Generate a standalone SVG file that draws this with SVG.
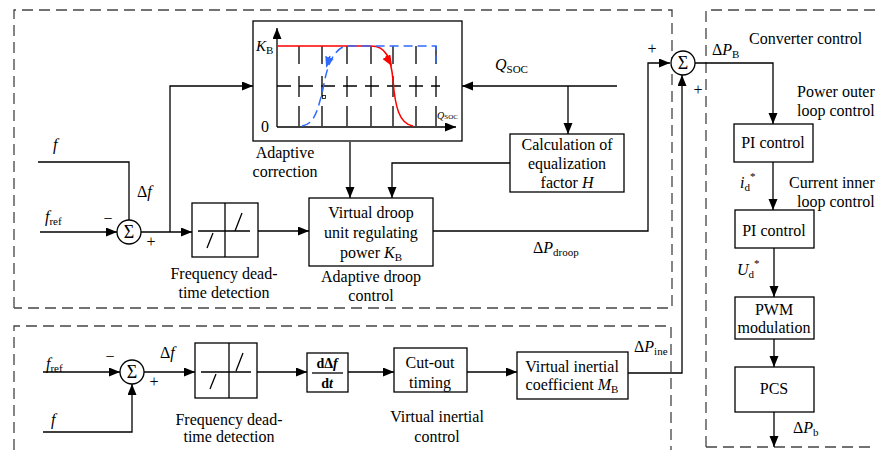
<svg xmlns="http://www.w3.org/2000/svg" width="876" height="450" viewBox="0 0 876 450">
<defs>
<marker id="ar" markerUnits="userSpaceOnUse" markerWidth="12" markerHeight="10" refX="11" refY="4.5" orient="auto"><path d="M0,0 L11,4.5 L0,9 z" fill="#000"/></marker>
<marker id="arr" markerUnits="userSpaceOnUse" markerWidth="12" markerHeight="10" refX="5" refY="4.5" orient="auto"><path d="M0,0 L11,4.5 L0,9 z" fill="#f00"/></marker>
<marker id="arb" markerUnits="userSpaceOnUse" markerWidth="12" markerHeight="10" refX="5" refY="4.5" orient="auto"><path d="M0,0 L11,4.5 L0,9 z" fill="#2f6bff"/></marker>
<style>
text{font-family:"Liberation Serif","Times New Roman",serif;font-size:16px;fill:#000}
.m{text-anchor:middle}
.i{font-style:italic}
.s{font-size:11px}
.frac{font-size:14px;font-weight:bold}
.box{fill:#fff;stroke:#000;stroke-width:1.3}
.ln{fill:none;stroke:#000;stroke-width:1.3}
.dash{fill:none;stroke:#444;stroke-width:1.3;stroke-dasharray:11 6}
.grid{fill:none;stroke:#000;stroke-width:1.3}
</style>
</defs>

<!-- dashed regions -->
<g id="regions">
<path class="dash" d="M14,308 V10 H672 V308 H14"/>
<path class="dash" d="M14,450 V326 H671 V450"/>
<path class="dash" d="M706,447 V10 H876 M706,447 H876"/>
</g>

<!-- connectors -->
<g id="connectors">
<path class="ln" d="M38,162 H129 V220"/>
<path class="ln" d="M40,232 H117" marker-end="url(#ar)"/>
<path class="ln" d="M141,232 H192" marker-end="url(#ar)"/>
<path class="ln" d="M170,232 V86 H253" marker-end="url(#ar)"/>
<path class="ln" d="M617,86 H462" marker-end="url(#ar)"/>
<path class="ln" d="M568,86 V134" marker-end="url(#ar)"/>
<path class="ln" d="M350,142 V198" marker-end="url(#ar)"/>
<path class="ln" d="M510,163 H392 V198" marker-end="url(#ar)"/>
<path class="ln" d="M258,231 H309" marker-end="url(#ar)"/>
<path class="ln" d="M433,231 H648 V63 H670" marker-end="url(#ar)"/>
<path class="ln" d="M628,373 H682 V75" marker-end="url(#ar)"/>
<path class="ln" d="M695,63 H773 V124" marker-end="url(#ar)"/>
<path class="ln" d="M773,162 V210" marker-end="url(#ar)"/>
<path class="ln" d="M774,248 V297" marker-end="url(#ar)"/>
<path class="ln" d="M774,339 V367" marker-end="url(#ar)"/>
<path class="ln" d="M774,412 V447" marker-end="url(#ar)"/>
<path class="ln" d="M43,372 H120" marker-end="url(#ar)"/>
<path class="ln" d="M43,432 H132 V384" marker-end="url(#ar)"/>
<path class="ln" d="M144,372 H195" marker-end="url(#ar)"/>
<path class="ln" d="M257,372 H307" marker-end="url(#ar)"/>
<path class="ln" d="M348,372 H394" marker-end="url(#ar)"/>
<path class="ln" d="M467,372 H517" marker-end="url(#ar)"/>
</g>

<!-- adaptive correction chart -->
<g id="adaptive-correction">
<rect class="box" x="253" y="21" width="209" height="120"/>
<path class="ln" d="M277,127 V28" marker-end="url(#ar)"/>
<path class="ln" d="M277,127 H456" marker-end="url(#ar)"/>
<path class="grid" stroke-dasharray="18 12 21 9 20 100" d="M299,46 V127 M322,46 V127 M347,46 V127 M371,46 V127 M393,46 V127 M416,46 V127 M436,46 V127"/>
<path class="grid" stroke-dasharray="14 8" d="M277,86 H440"/>
<path fill="none" stroke="#f00" stroke-width="1.5" d="M277,46 H371 C386,46 391,58 393,80 C395,106 399,124 413,126"/>
<path fill="none" stroke="#f00" stroke-width="1.5" d="M386,56 L389,61" marker-end="url(#arr)"/>
<path fill="none" stroke="#2f6bff" stroke-width="1.5" stroke-dasharray="9 5" d="M302,126 C316,124 318,106 322,94 C326,72 330,52 345,46 H436 V63"/>
<path fill="none" stroke="#2f6bff" stroke-width="1.5" d="M330,56 L328,62" marker-end="url(#arb)"/>
<rect x="322.5" y="95.5" width="3" height="3" fill="#fff" stroke="#000" stroke-width="0.8"/>
<text x="256" y="51" class="i" style="font-size:15px">K<tspan class="s" font-style="normal" dy="3">B</tspan></text>
<text x="261" y="132">0</text>
<text x="437" y="119" class="i" style="font-size:10px">Q<tspan style="font-size:7px;font-style:normal">SOC</tspan></text>
<text x="285" y="158" class="m">Adaptive</text>
<text x="285" y="177" class="m">correction</text>
</g>

<!-- top sum -->
<g id="sum1">
<circle cx="129" cy="232" r="12" fill="#fff" stroke="#000" stroke-width="1.3"/>
<text x="129" y="238" class="m" style="font-size:18px">Σ</text>
<text x="108" y="224" class="m">−</text>
<text x="151" y="247" class="m">+</text>
<text x="53" y="150" class="i">f</text>
<text x="45" y="222" class="i">f<tspan class="s" font-style="normal" dy="3">ref</tspan></text>
<text x="137" y="197">Δ<tspan class="i">f</tspan></text>
</g>

<g id="deadzone1">
<rect class="box" x="192" y="203" width="66" height="54"/>
<path class="ln" d="M225,203 V257 M198,231 H250 M207,248 L213,233 M235,231 L242,213"/>
<text x="224" y="279" class="m">Frequency dead-</text>
<text x="224" y="298" class="m">time detection</text>
</g>

<g id="droop">
<rect class="box" x="309" y="198" width="124" height="68"/>
<text x="371" y="218" class="m">Virtual droop</text>
<text x="371" y="238" class="m">unit regulating</text>
<text x="371" y="258" class="m">power <tspan class="i">K</tspan><tspan class="s" dy="3">B</tspan></text>
<text x="371" y="282" class="m">Adaptive droop</text>
<text x="371" y="301" class="m">control</text>
</g>

<g id="equalization">
<rect class="box" x="510" y="134" width="114" height="58"/>
<text x="567" y="150" class="m">Calculation of</text>
<text x="567" y="169" class="m">equalization</text>
<text x="567" y="188" class="m">factor <tspan class="i">H</tspan></text>
<text x="495" y="70" class="i">Q<tspan class="s" font-style="normal" dy="3">SOC</tspan></text>
<text x="533" y="253">Δ<tspan class="i">P</tspan><tspan class="s" dy="3">droop</tspan></text>
</g>

<g id="sum-main">
<circle cx="683" cy="63" r="12" fill="#fff" stroke="#000" stroke-width="1.3"/>
<text x="683" y="69" class="m" style="font-size:18px">Σ</text>
<text x="652" y="54" class="m">+</text>
<text x="698" y="95" class="m">+</text>
<text x="712" y="55">Δ<tspan class="i">P</tspan><tspan class="s" dy="3">B</tspan></text>
<text x="634" y="352">Δ<tspan class="i">P</tspan><tspan class="s" dy="3">ine</tspan></text>
</g>

<!-- converter control -->
<g id="converter">
<text x="749" y="44">Converter control</text>
<text x="797" y="97">Power outer</text>
<text x="797" y="116">loop control</text>
<text x="789" y="188">Current inner</text>
<text x="797" y="207">loop control</text>
</g>
<g id="pi1">
<rect class="box" x="734" y="124" width="79" height="38"/>
<text x="773" y="148" class="m">PI control</text>
<text x="740" y="188" class="i">i<tspan class="s" font-style="normal" dy="3">d</tspan><tspan class="s" font-style="normal" dy="-11">*</tspan></text>
</g>
<g id="pi2">
<rect class="box" x="735" y="210" width="79" height="38"/>
<text x="774" y="236" class="m">PI control</text>
<text x="737" y="275" class="i">U<tspan class="s" font-style="normal" dy="3">d</tspan><tspan class="s" font-style="normal" dy="-11">*</tspan></text>
</g>
<g id="pwm">
<rect class="box" x="735" y="297" width="79" height="42"/>
<text x="774" y="315" class="m">PWM</text>
<text x="774" y="333" class="m">modulation</text>
</g>
<g id="pcs">
<rect class="box" x="735" y="367" width="79" height="45"/>
<text x="774" y="394" class="m">PCS</text>
<text x="793" y="433">Δ<tspan class="i">P</tspan><tspan class="s" dy="3">b</tspan></text>
</g>

<!-- bottom -->
<g id="sum2">
<circle cx="132" cy="372" r="12" fill="#fff" stroke="#000" stroke-width="1.3"/>
<text x="132" y="378" class="m" style="font-size:18px">Σ</text>
<text x="110" y="362" class="m">−</text>
<text x="154" y="387" class="m">+</text>
<text x="46" y="369" class="i">f<tspan class="s" font-style="normal" dy="3">ref</tspan></text>
<text x="51" y="425" class="i">f</text>
<text x="160" y="358">Δ<tspan class="i">f</tspan></text>
</g>
<g id="deadzone2">
<rect class="box" x="195" y="343" width="62" height="55"/>
<path class="ln" d="M229,343 V398 M201,372 H251 M210,389 L216,374 M236,371 L243,353"/>
<text x="229" y="425" class="m">Frequency dead-</text>
<text x="229" y="442" class="m">time detection</text>
</g>
<g id="derivative">
<rect class="box" x="307" y="353" width="41" height="39"/>
<text x="327" y="368" class="m frac">dΔ<tspan class="i">f</tspan></text>
<path class="ln" d="M312,373 H343"/>
<text x="327" y="388" class="m frac">d<tspan class="i">t</tspan></text>
</g>
<g id="cutout">
<rect class="box" x="394" y="348" width="73" height="44"/>
<text x="430" y="368" class="m">Cut-out</text>
<text x="430" y="388" class="m">timing</text>
<text x="437" y="422" class="m">Virtual inertial</text>
<text x="437" y="442" class="m">control</text>
</g>
<g id="inertial">
<rect class="box" x="517" y="352" width="111" height="47"/>
<text x="572" y="372" class="m">Virtual inertial</text>
<text x="572" y="390" class="m">coefficient <tspan class="i">M</tspan><tspan class="s" dy="3">B</tspan></text>
</g>
</svg>
